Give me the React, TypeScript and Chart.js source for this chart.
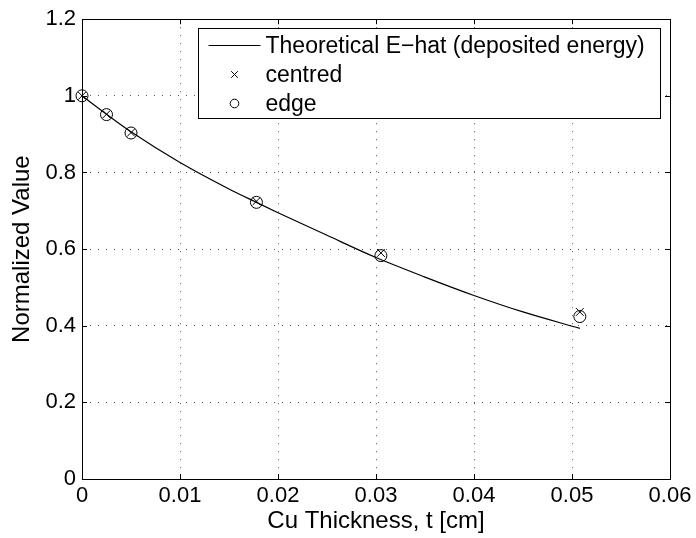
import React, { useEffect, useRef } from "react";
import { Chart, registerables } from "chart.js";

Chart.register(...registerables);

// Theoretical curve
const curveT = [0, 0.0025, 0.005, 0.01, 0.015, 0.0178, 0.02, 0.025, 0.03, 0.035, 0.04, 0.045, 0.0508];
const curveE = [1.0, 0.952, 0.906, 0.826, 0.757, 0.722, 0.695, 0.636, 0.578, 0.527, 0.479, 0.436, 0.393];

// Measured points
const sampleT = [0, 0.0025, 0.005, 0.0178, 0.0305, 0.0508];
const centred = [1.0, 0.952, 0.904, 0.725, 0.59, 0.436];
const edge = [1.0, 0.951, 0.903, 0.722, 0.583, 0.424];

// Axis ticks
const xTickValues = [0, 0.01, 0.02, 0.03, 0.04, 0.05, 0.06];
const xTickLabels = ["0", "0.01", "0.02", "0.03", "0.04", "0.05", "0.06"];
const yTickValues = [0, 0.2, 0.4, 0.6, 0.8, 1.0, 1.2];
const yTickLabels = ["0", "0.2", "0.4", "0.6", "0.8", "1", "1.2"];

const seriesLabels = ["Theoretical E\u2212hat (deposited energy)", "centred", "edge"];
const xTitle = "Cu Thickness, t [cm]";
const yTitle = "Normalized Value";

const FONT = "'Liberation Sans', Arial, Helvetica, sans-serif";

const frameAndLegend = {
  id: "frameAndLegend",
  afterDatasetsDraw(chart: any) {
    const ctx = chart.ctx;
    const { left, right, top, bottom } = chart.chartArea;
    const xs = chart.scales.x;
    const ys = chart.scales.y;
    ctx.save();
    ctx.strokeStyle = "#000";
    ctx.lineWidth = 1;
    ctx.setLineDash([]);
    // box
    ctx.strokeRect(Math.round(left) + 0.5, Math.round(top) + 0.5, Math.round(right - left), Math.round(bottom - top));
    // inner ticks
    const tl = 5;
    ctx.beginPath();
    xTickValues.forEach((v) => {
      const px = Math.round(xs.getPixelForValue(v)) + 0.5;
      ctx.moveTo(px, bottom);
      ctx.lineTo(px, bottom - tl);
      ctx.moveTo(px, top);
      ctx.lineTo(px, top + tl);
    });
    yTickValues.forEach((v) => {
      const py = Math.round(ys.getPixelForValue(v)) + 0.5;
      ctx.moveTo(left, py);
      ctx.lineTo(left + tl, py);
      ctx.moveTo(right, py);
      ctx.lineTo(right - tl, py);
    });
    ctx.stroke();

    // legend
    const lx = Math.round(left) + 116.5;
    const ly = Math.round(top) + 9.5;
    const lw = Math.round(right) - 10 - Math.round(left) - 116;
    const lh = 90;
    ctx.fillStyle = "#fff";
    ctx.fillRect(lx, ly, lw, lh);
    ctx.strokeRect(lx, ly, lw, lh);
    const rows = [ly + 17, ly + 46, ly + 75];
    const sx = lx + 36;
    // line sample
    ctx.beginPath();
    ctx.moveTo(lx + 10, rows[0]);
    ctx.lineTo(lx + 62, rows[0]);
    ctx.stroke();
    // cross
    const r = 3.3;
    ctx.beginPath();
    ctx.moveTo(sx - r, rows[1] - r);
    ctx.lineTo(sx + r, rows[1] + r);
    ctx.moveTo(sx + r, rows[1] - r);
    ctx.lineTo(sx - r, rows[1] + r);
    ctx.stroke();
    // circle
    ctx.beginPath();
    ctx.arc(sx, rows[2], 4.3, 0, Math.PI * 2);
    ctx.stroke();
    ctx.fillStyle = "#000";
    ctx.font = `23px ${FONT}`;
    ctx.textBaseline = "middle";
    ctx.textAlign = "left";
    seriesLabels.forEach((t, i) => {
      ctx.fillText(t, lx + 67, rows[i] + 1);
    });
    ctx.restore();
  },
};

export default function App() {
  const ref = useRef<HTMLCanvasElement | null>(null);
  useEffect(() => {
    document.body.style.margin = "0";
    const canvas = ref.current;
    if (!canvas) return;
    Chart.defaults.font.family = FONT;
    Chart.defaults.color = "#000";
    const chart = new Chart(canvas, {
      type: "scatter",
      data: {
        datasets: [
          {
            label: seriesLabels[0],
            data: curveT.map((t, i) => ({ x: t, y: curveE[i] })),
            showLine: true,
            borderColor: "#000",
            borderWidth: 1.2,
            pointRadius: 0,
            cubicInterpolationMode: "monotone",
          } as any,
          {
            label: seriesLabels[1],
            data: sampleT.map((t, i) => ({ x: t, y: centred[i] })),
            pointStyle: "crossRot",
            pointRadius: 5.5,
            borderColor: "#000",
            borderWidth: 1,
            backgroundColor: "rgba(0,0,0,0)",
            clip: false,
          } as any,
          {
            label: seriesLabels[2],
            data: sampleT.map((t, i) => ({ x: t, y: edge[i] })),
            pointStyle: "circle",
            pointRadius: 6,
            borderColor: "#000",
            borderWidth: 1,
            backgroundColor: "rgba(0,0,0,0)",
            clip: false,
          } as any,
        ],
      },
      options: {
        animation: false,
        responsive: false,
        maintainAspectRatio: false,
        layout: { padding: { top: 14, right: 26, left: 0, bottom: 0 } },
        plugins: {
          legend: { display: false },
          tooltip: { enabled: false },
        },
        scales: {
          x: {
            type: "linear",
            min: 0,
            max: 0.06,
            afterBuildTicks: (s: any) => {
              s.ticks = xTickValues.map((v) => ({ value: v }));
            },
            afterFit: (s: any) => {
              s.height = 59;
            },
            ticks: {
              callback: (_v: any, i: number) => xTickLabels[i],
              font: { size: 22 },
              color: "#000",
              padding: 4,
              maxRotation: 0,
            },
            grid: { color: "#555", lineWidth: 1, drawTicks: false },
            border: { display: false, dash: [1, 7] },
            title: { display: true, text: xTitle, font: { size: 24 }, color: "#000", padding: { top: 0, bottom: 2 } },
          },
          y: {
            type: "linear",
            min: 0,
            max: 1.2,
            afterBuildTicks: (s: any) => {
              s.ticks = yTickValues.map((v) => ({ value: v }));
            },
            afterFit: (s: any) => {
              s.width = 82;
            },
            ticks: {
              callback: (_v: any, i: number) => yTickLabels[i],
              font: { size: 22 },
              color: "#000",
              padding: 6,
            },
            grid: { color: "#555", lineWidth: 1, drawTicks: false },
            border: { display: false, dash: [1, 7] },
            title: { display: true, text: yTitle, font: { size: 24 }, color: "#000", padding: { top: 8, bottom: 0 } },
          },
        },
      } as any,
      plugins: [frameAndLegend],
    });
    return () => chart.destroy();
  }, []);
  return (
    <div style={{ width: 696, height: 538, background: "#fff" }}>
      <canvas ref={ref} width={696} height={538} style={{ display: "block", width: 696, height: 538 }} />
    </div>
  );
}
